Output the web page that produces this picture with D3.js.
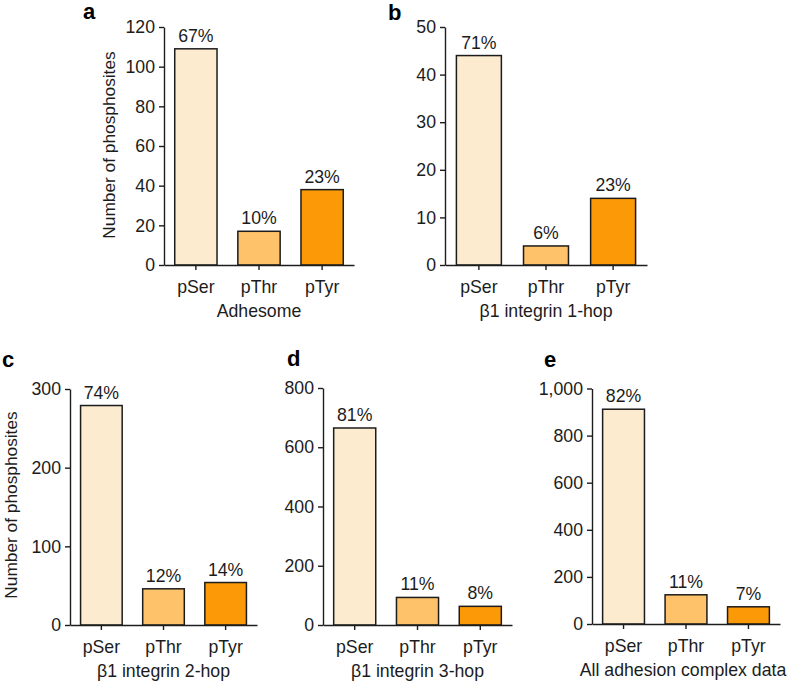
<!DOCTYPE html>
<html>
<head>
<meta charset="utf-8">
<script src="https://cdn.jsdelivr.net/npm/d3@7"></script>
<style>
  body { margin: 0; background: #fff; }
  svg { display: block; font-family: "Liberation Sans", Arial, Helvetica, sans-serif; }
</style>
</head>
<body>
<div id="chart"></div>
<script>
const categories = ["pSer", "pThr", "pTyr"];
const barColors = ["#fdebd0", "#fdc26a", "#fb9a06"];

const adhesomeCounts = [109, 17, 38];
const adhesomePct = ["67%", "10%", "23%"];
const hop1Counts = [44, 4, 14];
const hop1Pct = ["71%", "6%", "23%"];
const hop2Counts = [279, 46, 54];
const hop2Pct = ["74%", "12%", "14%"];
const hop3Counts = [665, 93, 63];
const hop3Pct = ["81%", "11%", "8%"];
const allCounts = [912, 124, 73];
const allPct = ["82%", "11%", "7%"];

const adhesomeTicks = [0, 20, 40, 60, 80, 100, 120];
const hop1Ticks = [0, 10, 20, 30, 40, 50];
const hop2Ticks = [0, 100, 200, 300];
const hop3Ticks = [0, 200, 400, 600, 800];
const allTicks = [0, 200, 400, 600, 800, 1000];

const yLabel = "Number of phosphosites";

// panel placement (pixel frame of each small chart)
const panels = [
  { letter: "a", title: "Adhesome", counts: adhesomeCounts, pct: adhesomePct, ticks: adhesomeTicks,
    x0: 164, x1: 354, y0: 265, y1: 27, lx: 83, ly: 19, ylab: { x: 115, y: 145 } },
  { letter: "b", title: "β1 integrin 1-hop", counts: hop1Counts, pct: hop1Pct, ticks: hop1Ticks,
    x0: 445, x1: 647, y0: 265, y1: 27, lx: 388, ly: 20 },
  { letter: "c", title: "β1 integrin 2-hop", counts: hop2Counts, pct: hop2Pct, ticks: hop2Ticks,
    x0: 70, x1: 257, y0: 625, y1: 389, lx: 2, ly: 367, ylab: { x: 17, y: 505 } },
  { letter: "d", title: "β1 integrin 3-hop", counts: hop3Counts, pct: hop3Pct, ticks: hop3Ticks,
    x0: 323, x1: 512, y0: 625, y1: 388, lx: 287, ly: 366 },
  { letter: "e", title: "All adhesion complex data", counts: allCounts, pct: allPct, ticks: allTicks,
    x0: 592, x1: 780, y0: 624, y1: 388.5, lx: 544, ly: 367, tx: 683 }
];

const W = 788, H = 682;
const ink = "#1c1c1c";
const fs = "17.7px";

const svg = d3.select("#chart").append("svg").attr("width", W).attr("height", H);

function drawPanel(p) {
  const g = svg.append("g");
  const data = categories.map((c, i) => ({ cat: c, n: p.counts[i], pct: p.pct[i], color: barColors[i] }));

  const x = d3.scaleBand().domain(categories).range([p.x0, p.x1]).paddingInner(0.33).paddingOuter(0.17);
  const y = d3.scaleLinear().domain([0, d3.max(p.ticks)]).range([p.y0, p.y1]);

  g.selectAll(".bar").data(data).join("rect")
    .attr("class", "bar")
    .attr("x", d => x(d.cat))
    .attr("y", d => y(d.n))
    .attr("width", x.bandwidth())
    .attr("height", d => y(0) - y(d.n))
    .attr("fill", d => d.color)
    .attr("stroke", ink).attr("stroke-width", 1.5);

  g.selectAll(".pct").data(data).join("text")
    .attr("class", "pct")
    .attr("x", d => x(d.cat) + x.bandwidth() / 2)
    .attr("y", d => y(d.n) - 7)
    .attr("text-anchor", "middle")
    .style("font-size", fs).style("fill", ink)
    .text(d => d.pct);

  const yAxis = g.append("g").attr("transform", `translate(${p.x0},0)`)
    .call(d3.axisLeft(y).tickValues(p.ticks).tickSize(5).tickSizeOuter(0).tickPadding(4).tickFormat(d3.format(",")));
  yAxis.selectAll("text").style("font-size", fs).style("fill", ink);
  yAxis.selectAll("line, path").style("stroke", ink).style("stroke-width", 1.4);

  const xAxis = g.append("g").attr("transform", `translate(0,${p.y0})`)
    .call(d3.axisBottom(x).tickSize(5).tickSizeOuter(0).tickPadding(10));
  xAxis.selectAll("text").style("font-size", fs).style("fill", ink);
  xAxis.selectAll("line, path").style("stroke", ink).style("stroke-width", 1.4);

  g.append("text").text(p.title)
    .attr("x", p.tx || (p.x0 + p.x1) / 2).attr("y", p.y0 + 52)
    .attr("text-anchor", "middle")
    .style("font-size", fs).style("fill", ink);

  g.append("text").text(p.letter)
    .attr("x", p.lx).attr("y", p.ly)
    .style("font-size", "22px").style("font-weight", "700").style("fill", "#000");

  if (p.ylab) {
    g.append("text").text(yLabel)
      .attr("transform", `translate(${p.ylab.x},${p.ylab.y}) rotate(-90)`)
      .attr("text-anchor", "middle")
      .style("font-size", "17.3px").style("fill", ink);
  }
}

panels.forEach(drawPanel);
</script>
</body>
</html>
